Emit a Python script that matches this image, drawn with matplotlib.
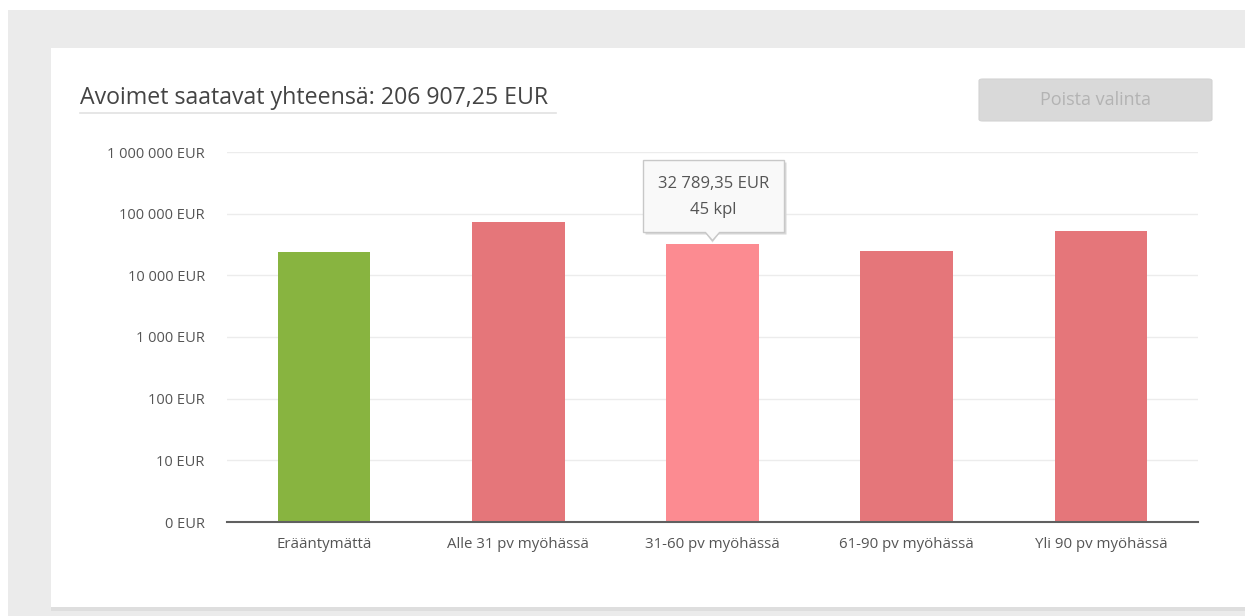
import numpy as np
import matplotlib
matplotlib.use("Agg")
import matplotlib.pyplot as plt
from matplotlib.patches import Rectangle, FancyBboxPatch, Polygon
from matplotlib.ticker import FixedLocator, FixedFormatter

plt.rcParams["font.family"] = ["Open Sans", "DejaVu Sans"]

# data (log scale, EUR)
categories = ["Erääntymättä", "Alle 31 pv myöhässä", "31-60 pv myöhässä",
              "61-90 pv myöhässä", "Yli 90 pv myöhässä"]
amounts    = [23900, 72300, 32789.35, 24900, 52000]
bar_colors = ["#88b440", "#e5767a", "#fc8b91", "#e5767a", "#e5767a"]
tick_vals  = [1, 10, 100, 1000, 10000, 100000, 1000000]
tick_txt   = ["0 EUR", "10 EUR", "100 EUR", "1 000 EUR", "10 000 EUR",
              "100 000 EUR", "1 000 000 EUR"]
title_txt  = "Avoimet saatavat yhteensä: 206 907,25 EUR"
tip_index  = 2
tip_lines  = ["32 789,35 EUR", "45 kpl"]

W, H = 1245, 616
fig = plt.figure(figsize=(W / 100, H / 100), dpi=100)
fig.patch.set_facecolor("white")


def fx(x): return x / W
def fy(y): return 1 - y / H


# page background + card (with a faint bottom shadow)
fig.patches.append(Rectangle((fx(8), fy(616)), fx(1245 - 8), 606 / H,
                             transform=fig.transFigure, fc="#ebebeb", ec="none", zorder=0))
fig.patches.append(Rectangle((fx(51), fy(611)), fx(1245 - 51), 563 / H,
                             transform=fig.transFigure, fc="#dedede", ec="none", zorder=1))
fig.patches.append(Rectangle((fx(51), fy(607)), fx(1245 - 51), 559 / H,
                             transform=fig.transFigure, fc="white", ec="none", zorder=2))

# title + underline
fig.text(fx(80), fy(98), title_txt, fontsize=16.7, color="#444444",
         va="center", ha="left", zorder=5)
fig.lines.append(plt.Line2D([fx(80), fx(556)], [fy(113), fy(113)],
                            transform=fig.transFigure, color="#e2e2e2", lw=1.2, zorder=5))

# "Poista valinta" button
fig.patches.append(FancyBboxPatch((fx(979), fy(121)), fx(233), 42 / H,
                                  boxstyle="round,pad=0,rounding_size=0.003",
                                  transform=fig.transFigure, fc="#d9d9d9",
                                  ec="#d3d3d3", lw=0.8, zorder=5))
fig.text(fx(1095), fy(100), "Poista valinta", fontsize=13, color="#b3b3b3",
         ha="center", va="center", zorder=6)

# chart
ax = fig.add_axes([fx(227), fy(522), fx(1198 - 227), (522 - 152) / H], zorder=10)
ax.patch.set_alpha(0)
x = np.arange(len(categories))
ax.bar(x, amounts, width=0.476, color=bar_colors, bottom=1, zorder=3)
ax.set_yscale("log")
ax.set_ylim(1, 1e6)
ax.set_xlim(-0.5, len(categories) - 0.5)

ax.yaxis.set_major_locator(FixedLocator(tick_vals))
ax.yaxis.set_major_formatter(FixedFormatter(tick_txt))
ax.yaxis.set_minor_locator(FixedLocator([]))
ax.set_xticks(x)
ax.set_xticklabels(categories)
ax.tick_params(axis="y", length=0, pad=16, labelsize=10.5, labelcolor="#555555")
ax.tick_params(axis="x", length=0, pad=11, labelsize=10.8, labelcolor="#555555")

ax.grid(axis="y", color="#ececec", lw=1, zorder=0)
for side in ["top", "right", "left"]:
    ax.spines[side].set_visible(False)
ax.spines["bottom"].set_color("#606060")
ax.spines["bottom"].set_linewidth(1.5)
ax.spines["bottom"].set_zorder(4)

# tooltip above the hovered bar (pixel offsets from bar top)
base = ax.transData.transform((x[tip_index], amounts[tip_index]))
to_data = ax.transData.inverted()


def pt(dx, dy):
    return to_data.transform((base[0] + dx, base[1] + dy))


shadow = [pt(-67, 9), pt(-6, 9), pt(0, 1), pt(6, 9), pt(74, 9), pt(74, 81), pt(-67, 81)]
outline = [pt(-69, 11), pt(-7, 11), pt(0, 3), pt(7, 11), pt(72, 11), pt(72, 83), pt(-69, 83)]
ax.add_patch(Polygon(shadow, closed=True, fc="#d8d8d8", ec="none", zorder=6, clip_on=False))
ax.add_patch(Polygon(outline, closed=True, fc="#f9f9f9", ec="#c8c8c8", lw=1,
                     zorder=7, clip_on=False))
cx, cy = pt(1, 60)
ax.text(cx, cy, tip_lines[0], ha="center", va="center", fontsize=12,
        color="#555555", zorder=8)
cx, cy = pt(1, 34)
ax.text(cx, cy, tip_lines[1], ha="center", va="center", fontsize=12,
        color="#555555", zorder=8)

fig.savefig("out.png", dpi=100, facecolor="white")
